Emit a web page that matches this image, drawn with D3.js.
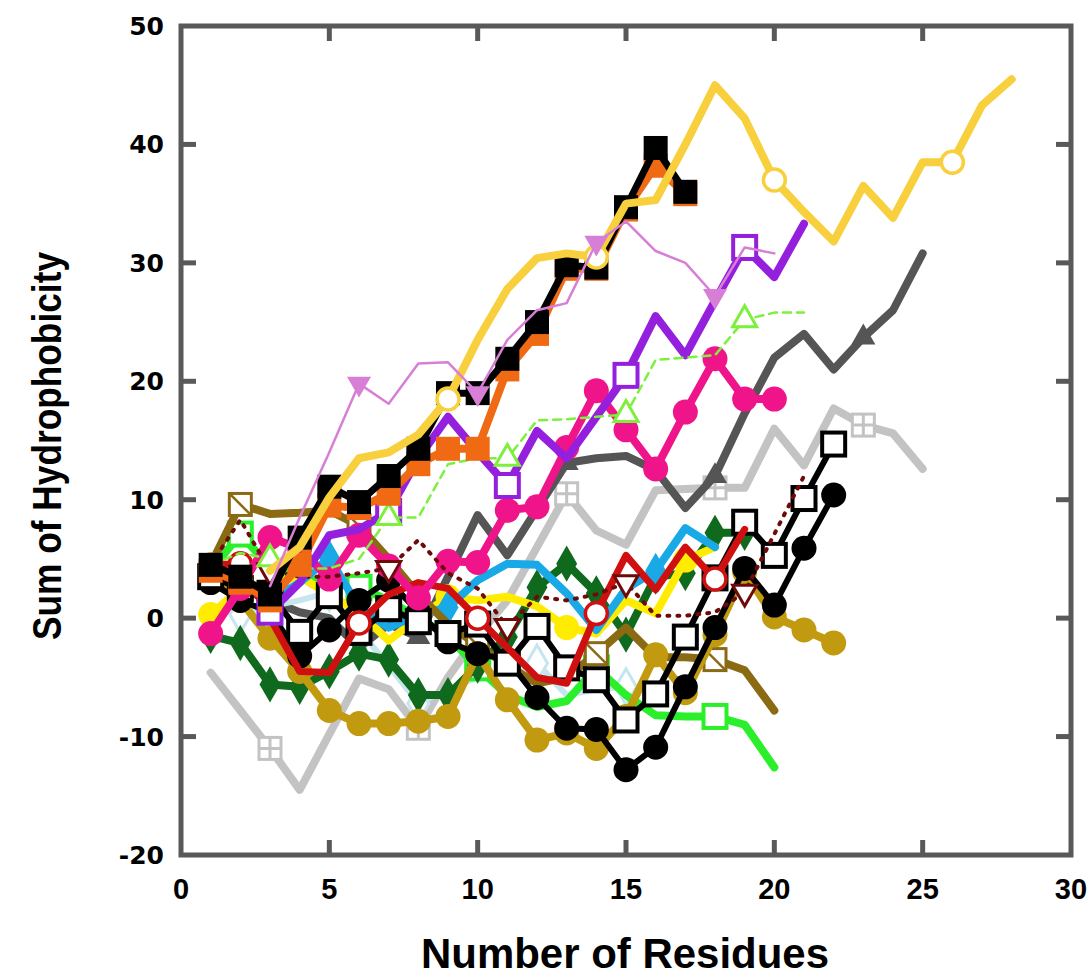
<!DOCTYPE html>
<html>
<head>
<meta charset="utf-8">
<script src="https://cdn.jsdelivr.net/npm/d3@7"></script>
<style>
  html, body { margin: 0; padding: 0; background: #fff; }
  svg { display: block; }
</style>
</head>
<body>
<div id="chart"></div>
<script>
// tick labels
var xTicks = [0, 5, 10, 15, 20, 25, 30];
var yTicks = [-20, -10, 0, 10, 20, 30, 40, 50];

// series values (y at residue start, start+1, ...)
var lightGray   = [-4.6, -7.8, -11, -14.5, -9.8, -5.1, -6, -9.3, -5, -1.5, 1.5, 6, 10.5, 7.4, 6.2, 10.8, 10.9, 11, 11, 16, 12.9, 17.7, 16.3, 15.6, 12.6];
var darkGray    = [4, 2.5, 1.5, 0.5, 0, -2.5, -0.5, -1.6, 3.5, 8.7, 5.3, 9.2, 13.1, 13.5, 13.7, 12.5, 9.3, 12, 17.3, 22, 24, 21, 23.7, 26, 30.8];
var paleBlue    = [1, 0.3, 1, 1.5, 2.2, -1, -4, -7.2, -6, -5, -4.5, -3.8, -6.5, -6, -5.8];
var brightGreen = [4, 7.1, 4.3, 3.5, 3, 2.6, 1.5, 0, -1.5, -4.2, -6.5, -7.5, -7, -4.2, -6.5, -8.2, -8.3, -8.3, -9, -12.6];
var darkGreen   = [-1.5, -2.1, -5.6, -5.8, -4.5, -3, -3.5, -6.5, -6.5, -4, -1.6, 2.6, 4.6, 2.1, -1.4, 3.5, 3.8, 7.2, 7.2];
var yellow      = [0.3, 2.5, 3, 3.5, 2, 0.5, -1.9, 0, 1.8, 1.5, 1.8, 1, -0.8, -1.3, 1.5, 0.4, 4.9, 6];
var skyBlue     = [3.5, 3, 1.5, 3, 5.1, 0.9, -0.8, 0.3, 0.9, 3.2, 4.6, 4.5, 2.1, -1, 2.5, 4, 7.6, 6];
var olive       = [4.5, 9.6, 8.8, 8.9, 9.1, 7.8, 5, 2, -0.5, -2.3, -4, -5.5, -5, -3, -0.8, -3.3, -3.3, -3.5, -4.4, -7.8];
var gold        = [4.5, 1.5, -1.7, -4.5, -7.8, -8.9, -8.9, -8.7, -8.3, -3, -6.9, -10.3, -9.7, -11, -8.3, -3.1, -6.3, -1.4, 3.9, 0.1, -1, -2.1];
var blackDot    = [3, 1.5, 0.5, -3.2, -1, 1.5, 3.2, 0.5, -2, -3, -3.5, -6.7, -9.3, -9.4, -12.8, -10.9, -5.8, -0.8, 4.2, 1.1, 5.9, 10.4];
var blackOpen   = [3.5, 2.5, 2.1, -1.2, 1.9, -1.2, 0.8, -0.3, -1.3, -0.5, -3.8, -0.7, -4.2, -5.2, -8.6, -6.4, -1.6, 3.4, 8.1, 5.3, 10.1, 14.7];
var red         = [4.5, 4.6, 0, -4.5, -4.6, -0.4, 2, 3, 2.5, 0, -2.5, -5, -5.5, 0.4, 5.3, 2.4, 6, 3.3, 7.5];
var pink        = [-1.3, 2.5, 6.8, 5.9, 3.3, 7, 4.4, 1.7, 4.8, 4.7, 9.1, 9.4, 14.4, 19.2, 15.9, 12.6, 17.4, 21.9, 18.5, 18.5];
var darkRed     = [4.5, 8.3, 4, 3.5, 3.5, 3.8, 4.2, 6.6, 3.8, 2.5, -0.7, 1.8, 1.5, 2, 3, 0.2, 0.2, 0.5, 2.2, 7.1, 12];
var purple      = [0.5, 3, 7, 7.5, 9, 13.5, 17, 14, 11.2, 15.8, 13.5, 17, 20.5, 25.5, 22.2, 26.8, 31.3, 28.8, 33.3];
var greenDash   = [4.5, 5.5, 5, 4.2, 4.2, 5, 8.5, 8.5, 13, 13.5, 13.5, 16.7, 16.8, 17, 17.2, 21.8, 22, 22.2, 25.2, 25.8, 25.8];
var orange      = [4, 3, 1.5, 4.5, 9.5, 9.3, 10.5, 13, 14.3, 14.3, 21, 24, 29.5, 29.5, 34.5, 38.2, 35.8];
var blackSquare = [4.5, 3.5, 2, 6.8, 11.1, 9.8, 12, 14.3, 19, 19, 21.9, 25, 29.8, 29.6, 34.7, 39.7, 36];
var goldOpen    = [4, 6, 10.2, 13.5, 14, 15.5, 18.5, 23.5, 27.8, 30.4, 30.8, 30.5, 35, 35.3, 40, 45, 42.2, 37, 34.3, 31.8, 36.5, 33.8, 38.5, 38.5, 43.3, 45.5];
var orchid      = [2.7, 8.5, 14, 19.8, 18.1, 21.5, 21.6, 19, 23.5, 26, 26.6, 31.7, 33.5, 31, 30, 27.2, 31.3, 30.8];

// first residue of each series, and residues that carry a marker
var starts = { lightGray: 1, darkGray: 1, paleBlue: 1, brightGreen: 1, darkGreen: 1, yellow: 1,
  skyBlue: 1, olive: 1, gold: 1, blackDot: 1, blackOpen: 1, red: 1, pink: 1, darkRed: 1,
  purple: 3, greenDash: 1, orange: 1, blackSquare: 1, goldOpen: 3, orchid: 3 };
var marked = {
  lightGray: [3, 8, 13, 18, 23], darkGray: [3, 8, 13, 18, 23], paleBlue: [2, 5, 8, 12, 15],
  brightGreen: [2, 6, 10, 14, 18], yellow: [1, 5, 9, 13, 17], skyBlue: [2, 5, 9, 16],
  olive: [2, 6, 10, 14, 18], red: [2, 6, 10, 14, 18], darkRed: [3, 7, 11, 15, 19],
  purple: [3, 7, 11, 15, 19], greenDash: [3, 7, 11, 15, 19], goldOpen: [9, 14, 20, 26],
  orchid: [6, 10, 14, 18]
};
var seriesData = { lightGray: lightGray, darkGray: darkGray, paleBlue: paleBlue, brightGreen: brightGreen,
  darkGreen: darkGreen, yellow: yellow, skyBlue: skyBlue, olive: olive, gold: gold, blackDot: blackDot,
  blackOpen: blackOpen, red: red, pink: pink, darkRed: darkRed, purple: purple, greenDash: greenDash,
  orange: orange, blackSquare: blackSquare, goldOpen: goldOpen, orchid: orchid };

// drawing styles (back to front)
var styles = {
  lightGray:   { c: "#c3c3c3", w: 8, m: "crossSq" },
  darkGray:    { c: "#555555", w: 8, m: "triUp", fill: "#555555" },
  paleBlue:    { c: "#c6e6ee", w: 6, m: "diamond", fill: "#fff" },
  brightGreen: { c: "#2bef2b", w: 8, m: "square", fill: "#fff" },
  darkGreen:   { c: "#0f6a1e", w: 8, m: "diamond", fill: "#0f6a1e", all: true },
  yellow:      { c: "#ffec00", w: 8, m: "circle", fill: "#ffec00" },
  skyBlue:     { c: "#19a9e6", w: 8, m: "diamond", fill: "#19a9e6" },
  olive:       { c: "#8a6a12", w: 8, m: "slashSq" },
  gold:        { c: "#c29a10", w: 8, m: "circle", fill: "#c29a10", all: true },
  blackDot:    { c: "#000", w: 6, m: "circle", fill: "#000", all: true },
  blackOpen:   { c: "#000", w: 6, m: "square", fill: "#fff", all: true },
  red:         { c: "#d01010", w: 7, m: "circle", fill: "#fff" },
  pink:        { c: "#f0148a", w: 8, m: "circle", fill: "#f0148a", all: true },
  darkRed:     { c: "#6e0a0a", w: 4, m: "triDown", fill: "#fff", dash: "2 8" },
  purple:      { c: "#9420dd", w: 8, m: "square", fill: "#fff" },
  greenDash:   { c: "#7cf03a", w: 2.5, m: "triUp", fill: "#fff", dash: "8 6" },
  orange:      { c: "#f06a14", w: 8, m: "filledSq", fill: "#f06a14", all: true },
  blackSquare: { c: "#000", w: 7, m: "filledSq", fill: "#000", all: true },
  goldOpen:    { c: "#f8cf3c", w: 8, m: "circle", fill: "#fff" },
  orchid:      { c: "#d77fd6", w: 2.5, m: "triDown", fill: "#d77fd6" }
};
var order = ["lightGray", "darkGray", "paleBlue", "brightGreen", "darkGreen", "yellow", "skyBlue",
  "olive", "gold", "blackDot", "blackOpen", "red", "pink", "darkRed", "purple", "greenDash",
  "orange", "blackSquare", "goldOpen", "orchid"];

var width = 1092, height = 977;
var plotL = 181, plotR = 1071, plotT = 26, plotB = 855;

var svg = d3.select("#chart").append("svg")
  .attr("width", width)
  .attr("height", height);

var x = d3.scaleLinear().domain([0, 30]).range([plotL, plotR]);
var y = d3.scaleLinear().domain([-20, 50]).range([plotB, plotT]);

var line = d3.line()
  .x(function(d) { return x(d[0]); })
  .y(function(d) { return y(d[1]); });

var plot = svg.append("g");

function marker(g, kind, st, px, py) {
  var s = 11;
  if (kind === "circle") {
    g.append("circle").attr("cx", px).attr("cy", py).attr("r", st.fill === "#fff" ? 11 : 12.5)
      .attr("fill", st.fill).attr("stroke", st.c).attr("stroke-width", st.fill === "#fff" ? 3.5 : 0);
  } else if (kind === "square" || kind === "filledSq") {
    var h = kind === "filledSq" ? 12 : 11.5;
    g.append("rect").attr("x", px - h).attr("y", py - h).attr("width", 2 * h).attr("height", 2 * h)
      .attr("fill", st.fill).attr("stroke", st.c).attr("stroke-width", kind === "filledSq" ? 0 : 4);
  } else if (kind === "crossSq" || kind === "slashSq") {
    g.append("rect").attr("x", px - s).attr("y", py - s).attr("width", 2 * s).attr("height", 2 * s)
      .attr("fill", "#fff").attr("stroke", st.c).attr("stroke-width", 3);
    if (kind === "crossSq") {
      g.append("path").attr("d", "M" + px + "," + (py - s) + "V" + (py + s) + "M" + (px - s) + "," + py + "H" + (px + s))
        .attr("stroke", st.c).attr("stroke-width", 3);
    } else {
      g.append("path").attr("d", "M" + (px - s) + "," + (py - s) + "L" + (px + s) + "," + (py + s))
        .attr("stroke", st.c).attr("stroke-width", 2.5);
    }
  } else {
    var sym = kind === "diamond" ? d3.symbolDiamond : d3.symbolTriangle;
    var size = kind === "diamond" ? 380 : 250;
    g.append("path")
      .attr("d", d3.symbol().type(sym).size(size)())
      .attr("transform", "translate(" + px + "," + py + ")" + (kind === "triDown" ? " rotate(180)" : ""))
      .attr("fill", st.fill)
      .attr("stroke", st.c)
      .attr("stroke-width", st.fill === "#fff" ? 3 : 0);
  }
}

order.forEach(function(key) {
  var st = styles[key];
  var pts = seriesData[key].map(function(v, i) { return [starts[key] + i, v]; });
  var g = plot.append("g").attr("class", "series " + key);
  var p = g.append("path")
    .datum(pts)
    .attr("d", line)
    .attr("fill", "none")
    .attr("stroke", st.c)
    .attr("stroke-width", st.w)
    .attr("stroke-linejoin", "round")
    .attr("stroke-linecap", "round");
  if (st.dash) p.attr("stroke-dasharray", st.dash);
  var list = st.all ? pts.map(function(d) { return d[0]; }) : (marked[key] || []);
  pts.forEach(function(d) {
    if (list.indexOf(d[0]) >= 0) marker(g, st.m, st, x(d[0]), y(d[1]));
  });
});

// frame and ticks
var axisColor = "#595959";
svg.append("rect")
  .attr("x", plotL).attr("y", plotT)
  .attr("width", plotR - plotL).attr("height", plotB - plotT)
  .attr("fill", "none").attr("stroke", axisColor).attr("stroke-width", 5);

var tl = 15;
yTicks.slice(1, -1).forEach(function(t) {
  svg.append("line").attr("x1", plotL).attr("x2", plotL + tl).attr("y1", y(t)).attr("y2", y(t))
    .attr("stroke", axisColor).attr("stroke-width", 5);
  svg.append("line").attr("x1", plotR - tl).attr("x2", plotR).attr("y1", y(t)).attr("y2", y(t))
    .attr("stroke", axisColor).attr("stroke-width", 5);
});
xTicks.slice(1, -1).forEach(function(t) {
  svg.append("line").attr("x1", x(t)).attr("x2", x(t)).attr("y1", plotB).attr("y2", plotB - tl)
    .attr("stroke", axisColor).attr("stroke-width", 5);
  svg.append("line").attr("x1", x(t)).attr("x2", x(t)).attr("y1", plotT).attr("y2", plotT + tl)
    .attr("stroke", axisColor).attr("stroke-width", 5);
});

// tick labels
svg.selectAll(".ylab").data(yTicks).enter().append("text")
  .attr("x", 164)
  .attr("y", function(d) { return y(d) + 9; })
  .attr("text-anchor", "end")
  .attr("font-family", "DejaVu Sans")
  .attr("font-weight", "bold")
  .attr("font-size", 25)
  .text(function(d) { return d; });

svg.selectAll(".xlab").data(xTicks).enter().append("text")
  .attr("x", function(d) { return x(d); })
  .attr("y", 899)
  .attr("text-anchor", "middle")
  .attr("font-family", "Liberation Sans")
  .attr("font-weight", "bold")
  .attr("font-size", 29)
  .text(function(d) { return d; });

// axis titles
svg.append("text")
  .attr("x", 625).attr("y", 968)
  .attr("text-anchor", "middle")
  .attr("font-family", "Liberation Sans")
  .attr("font-weight", "bold")
  .attr("font-size", 42)
  .attr("textLength", 408)
  .attr("lengthAdjust", "spacingAndGlyphs")
  .text("Number of Residues");

svg.append("text")
  .attr("transform", "translate(61,446) rotate(-90)")
  .attr("text-anchor", "middle")
  .attr("font-family", "Liberation Sans")
  .attr("font-weight", "bold")
  .attr("font-size", 40)
  .attr("textLength", 388)
  .attr("lengthAdjust", "spacingAndGlyphs")
  .text("Sum of Hydrophobicity");
</script>
</body>
</html>
